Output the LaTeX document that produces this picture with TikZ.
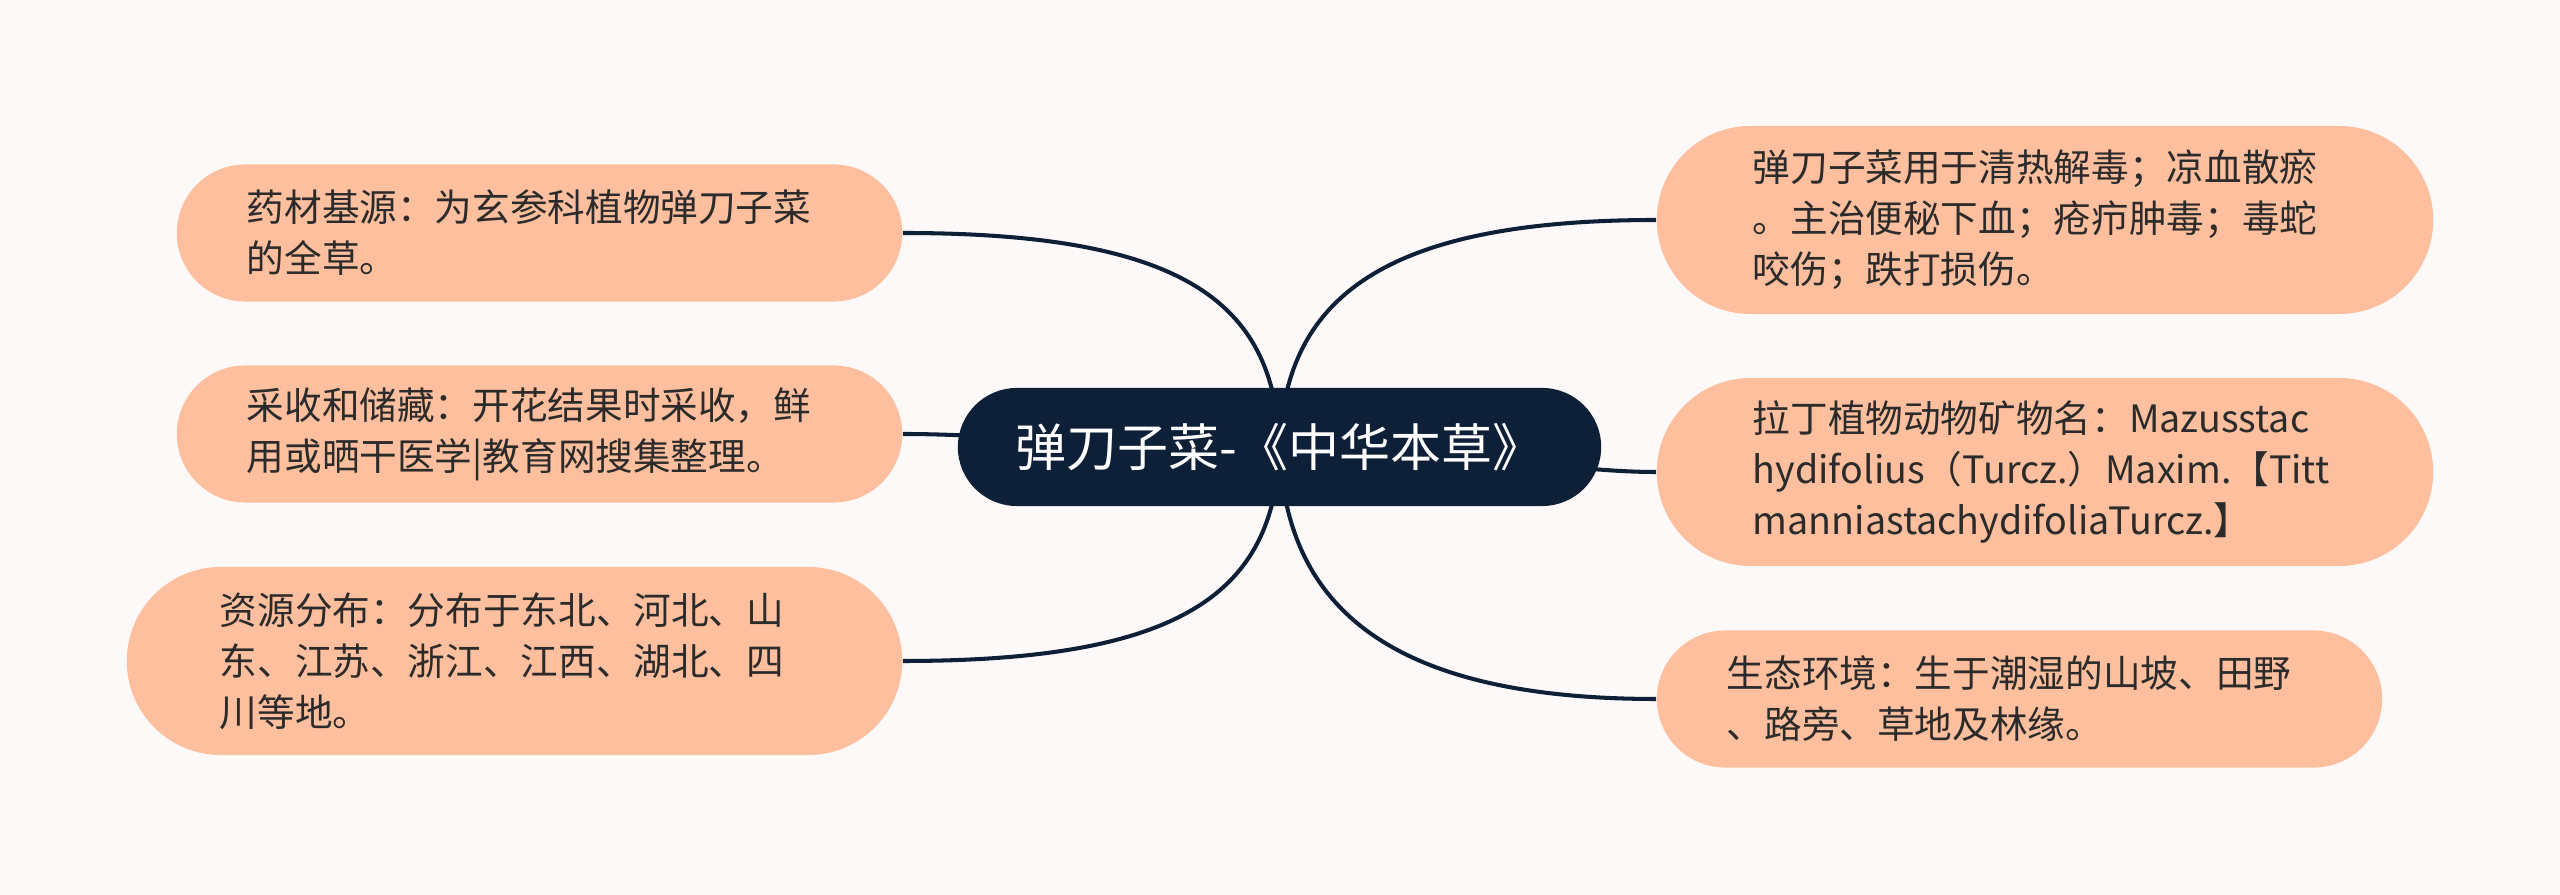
\documentclass[tikz,border=0pt]{standalone}
\usepackage{fontspec}
\setmainfont{Noto Sans CJK SC}
\pgfdeclarelayer{bg}
\pgfdeclarelayer{links}
\pgfsetlayers{bg,links,main}
\definecolor{peach}{HTML}{FDBF9D}
\definecolor{navy}{HTML}{0E1F38}
\definecolor{paper}{HTML}{FDF9F8}
\definecolor{ink}{HTML}{2B2B2B}
\tikzset{
  leaf/.style={fill=peach, rounded corners=0.685cm, minimum height=1.37cm,
    minimum width=7.25cm, inner sep=0pt, align=left, text=ink,
    font=\fontsize{10.7pt}{14.5pt}\selectfont, text width=5.85cm},
  tall/.style={rounded corners=0.94cm, minimum height=1.88cm},
  root/.style={fill=navy, rounded corners=0.59cm, minimum height=1.18cm,
    minimum width=6.43cm, inner sep=0pt, text=white,
    font=\fontsize{14.5pt}{17pt}\selectfont},
  link/.style={draw=navy, line width=1.15pt}
}
\begin{document}
\begin{tikzpicture}[x=0.01cm, y=-0.01cm, line join=round]
  \begin{pgfonlayer}{bg}
    \fill[paper] (0,0) rectangle (2560,895);
  \end{pgfonlayer}
  \useasboundingbox (0,0) rectangle (2560,895);

  \node[root] (herb) at (1279.5,447) {弹刀子菜-《中华本草》};

  \node[leaf] (source) at (539.5,233) {药材基源：为玄参科植物弹刀子菜\\的全草。};
  \node[leaf] (harvest) at (539.5,434) {采收和储藏：开花结果时采收，鲜\\用或晒干医学|教育网搜集整理。};
  \node[leaf, tall, minimum width=7.75cm, text width=5.89cm] (range) at (514.5,661)
    {资源分布：分布于东北、河北、山\\东、江苏、浙江、江西、湖北、四\\川等地。};

  \node[leaf, tall, minimum width=7.76cm, text width=5.84cm] (usage) at (2045,220)
    {弹刀子菜用于清热解毒；凉血散瘀\\。主治便秘下血；疮疖肿毒；毒蛇\\咬伤；跌打损伤。};
  \node[leaf, tall, minimum width=7.76cm, text width=5.84cm] (latin) at (2045,472)
    {拉丁植物动物矿物名：Mazusstac\\hydifolius（Turcz.）Maxim.【Titt\\manniastachydifoliaTurcz.】};
  \node[leaf] (habitat) at (2019.5,699) {生态环境：生于潮湿的山坡、田野\\、路旁、草地及林缘。};

  \begin{pgfonlayer}{links}
    \draw[link] (herb.center) .. controls (1275,300) and (1180,233) .. (source.east);
    \draw[link] (herb.center) .. controls (1100,447) and (1000,434) .. (harvest.east);
    \draw[link] (herb.center) .. controls (1275,594) and (1180,661) .. (range.east);
    \draw[link] (herb.center) .. controls (1285,300) and (1380,220) .. (usage.west);
    \draw[link] (herb.center) .. controls (1460,447) and (1560,472) .. (latin.west);
    \draw[link] (herb.center) .. controls (1285,600) and (1380,699) .. (habitat.west);
  \end{pgfonlayer}
\end{tikzpicture}
\end{document}
